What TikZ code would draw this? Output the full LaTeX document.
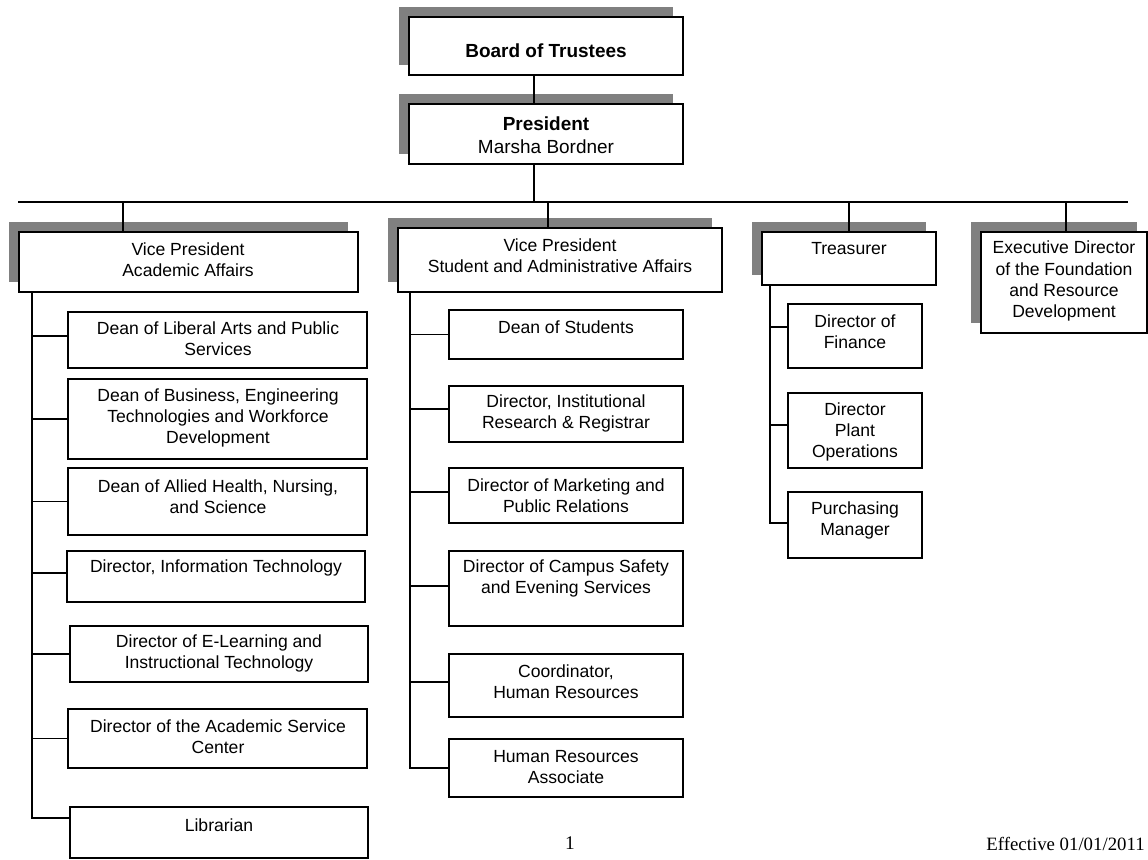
\documentclass[tikz,border=0pt]{standalone}
\usepackage{fontspec}
\setmainfont{Liberation Sans}
\newfontfamily\pagefont{Liberation Serif}
\usetikzlibrary{fit,shadows}
\definecolor{shadowgray}{RGB}{128,128,128}

\begin{document}
\begin{tikzpicture}[x=0.02cm,y=-0.02cm,
  box/.style={draw=black, line width=1pt, fill=white, inner sep=0pt},
  shadowed/.style={general shadow={fill=shadowgray, shadow xshift=-0.2cm, shadow yshift=0.2cm}},
  txt/.style={inner sep=0pt, align=center, font=\fontsize{10}{12}\selectfont},
  toptxt/.style={inner sep=0pt, align=center, font=\fontsize{10.8}{13}\selectfont},
  link/.style={line width=1pt, line cap=rect}]

\useasboundingbox[fill=white] (0,0) rectangle (1148,859);

% ---------- top of the chart ----------
\node[box, shadowed, fit={(409,17) (683,75)}] (board) {};
\node[toptxt] (boardT) at (546,51) {\bfseries Board of Trustees};
\node[box, shadowed, fit={(409,104) (683,164)}] (pres) {};
\node[toptxt] (presT) at (546,135) {\bfseries President\\Marsha Bordner};

% ---------- second level ----------
\node[box, shadowed, fit={(19,232) (358,292)}] (vpa) {};
\node[txt] (vpaT) at (188,260) {Vice President\\Academic Affairs};
\node[box, shadowed, fit={(398,228) (722,292)}] (vps) {};
\node[txt] (vpsT) at (560,256) {Vice President\\Student and Administrative Affairs};
\node[box, shadowed, fit={(762,232) (936,285)}] (tre) {};
\node[txt] (treT) at (849,249) {Treasurer};
\node[box, shadowed, fit={(981,232) (1147,333)}] (exd) {};
\node[txt] (exdT) at (1064,281) {Executive Director\\of the Foundation\\and Resource\\Development};

% ---------- academic affairs ----------
\node[box, fit={(68,312) (367,368)}] (dl) {};
\node[txt] (dlT) at (218,339) {Dean of Liberal Arts and Public\\Services};
\node[box, fit={(68,379) (367,459)}] (db) {};
\node[txt] (dbT) at (218,418) {Dean of Business, Engineering\\Technologies and Workforce\\Development};
\node[box, fit={(68,468) (367,535)}] (da) {};
\node[txt] (daT) at (218,497) {Dean of Allied Health, Nursing,\\and Science};
\node[box, fit={(67,551) (365,602)}] (dit) {};
\node[txt] (ditT) at (216,568) {Director, Information Technology};
\node[box, fit={(70,626) (368,682)}] (del) {};
\node[txt] (delT) at (219,653) {Director of E-Learning and\\Instructional Technology};
\node[box, fit={(68,709) (367,768)}] (das) {};
\node[txt] (dasT) at (218,737) {Director of the Academic Service\\Center};
\node[box, fit={(70,807) (368,858)}] (lib) {};
\node[txt] (libT) at (219,825) {Librarian};

% ---------- student and administrative affairs ----------
\node[box, fit={(449,310) (683,359)}] (dos) {};
\node[txt] (dosT) at (566,327) {Dean of Students};
\node[box, fit={(449,386) (683,442)}] (dir) {};
\node[txt] (dirT) at (566,413) {Director, Institutional\\Research \& Registrar};
\node[box, fit={(449,468) (683,523)}] (dmk) {};
\node[txt] (dmkT) at (566,496) {Director of Marketing and\\Public Relations};
\node[box, fit={(449,551) (683,626)}] (dcs) {};
\node[txt] (dcsT) at (566,578) {Director of Campus Safety\\and Evening Services};
\node[box, fit={(449,654) (683,717)}] (chr) {};
\node[txt] (chrT) at (566,682) {Coordinator,\\Human Resources};
\node[box, fit={(449,739) (683,797)}] (hra) {};
\node[txt] (hraT) at (566,767) {Human Resources\\Associate};

% ---------- treasurer ----------
\node[box, fit={(788,304) (922,368)}] (fin) {};
\node[txt] (finT) at (855,332) {Director of\\Finance};
\node[box, fit={(788,393) (922,468)}] (plant) {};
\node[txt] (plantT) at (855,432) {Director\\Plant\\Operations};
\node[box, fit={(788,492) (922,558)}] (pur) {};
\node[txt] (purT) at (855,520) {Purchasing\\Manager};

% ---------- connectors ----------
\coordinate (pdrop) at (534,202);
\coordinate (busL) at (19,202);
\coordinate (busR) at (1127,202);
\coordinate (dA) at (123,202);
\coordinate (dS) at (548,202);
\coordinate (dT) at (849,202);
\coordinate (dE) at (1066,202);

\draw[link] (board.south -| pdrop) -- (pres.north -| pdrop);
\draw[link] (pres.south -| pdrop) -- (pdrop);
\draw[link] (busL) -- (busR);
\draw[link] (dA) -- (dA |- vpa.north);
\draw[link] (dS) -- (dS |- vps.north);
\draw[link] (dT) -- (dT |- tre.north);
\draw[link] (dE) -- (dE |- exd.north);

% academic affairs trunk
\coordinate (tA) at (32,818);
\draw[link] (vpa.south -| tA) -- (tA) -- (tA -| lib.west);
\draw[link] ([yshift=0.08cm]dl.west) -- ([yshift=0.08cm]dl.west -| tA);
\draw[link] (db.west) -- (db.west -| tA);
\draw[link] (da.west) -- (da.west -| tA);
\draw[link] ([yshift=0.07cm]dit.west) -- ([yshift=0.07cm]dit.west -| tA);
\draw[link] (del.west) -- (del.west -| tA);
\draw[link] (das.west) -- (das.west -| tA);

% student and administrative affairs trunk
\coordinate (tS) at (410,768);
\draw[link] (vps.south -| tS) -- (tS) -- (tS -| hra.west);
\draw[link] (dos.west) -- (dos.west -| tS);
\draw[link] ([yshift=0.1cm]dir.west) -- ([yshift=0.1cm]dir.west -| tS);
\draw[link] ([yshift=0.07cm]dmk.west) -- ([yshift=0.07cm]dmk.west -| tS);
\draw[link] ([yshift=0.05cm]dcs.west) -- ([yshift=0.05cm]dcs.west -| tS);
\draw[link] ([yshift=0.07cm]chr.west) -- ([yshift=0.07cm]chr.west -| tS);

% treasurer trunk
\coordinate (tT) at (770,523);
\draw[link] (tre.south -| tT) -- (tT) -- (tT -| pur.west);
\draw[link] ([yshift=0.18cm]fin.west) -- ([yshift=0.18cm]fin.west -| tT);
\draw[link] ([yshift=0.11cm]plant.west) -- ([yshift=0.11cm]plant.west -| tT);

% ---------- footer ----------
\node[inner sep=0pt, font=\pagefont\fontsize{11}{13}\selectfont] (pageno) at (570,843) {1};
\node[inner sep=0pt, anchor=east, font=\pagefont\fontsize{10.7}{13}\selectfont] (eff) at (1145,844) {Effective 01/01/2011};

\end{tikzpicture}
\end{document}
